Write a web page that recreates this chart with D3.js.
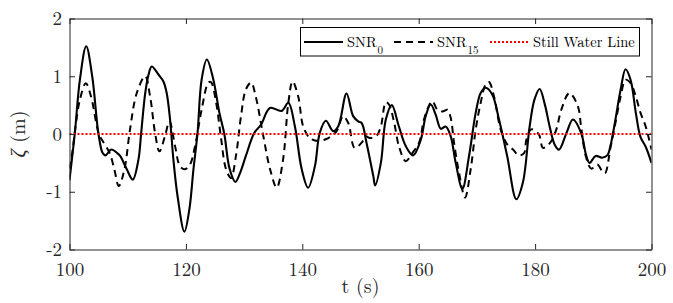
<!DOCTYPE html>
<html>
<head>
<meta charset="utf-8">
<script src="https://cdn.jsdelivr.net/npm/d3@7"></script>
<style>
body { margin: 0; background: #fff; }
</style>
</head>
<body>
<svg id="chart" width="673" height="303"></svg>
<script>
// SNR_0 record
const tSNR0 = [100, 100.9, 101.8, 102.87, 103.9, 104.98, 105.7, 106.2, 107.15, 108.2, 108.7, 109.84, 110.87, 111.85, 112.3,
  113.0, 113.56, 114.13, 115.28, 116.14, 116.7, 117.28, 117.85, 118.6, 119.74, 120.6, 121.3, 122.0, 122.7, 123.6,
  124.7, 125.75, 126.6, 127.5, 128.5, 129.4, 130.3, 131.76, 132.9, 134.44, 136.44, 137.6, 138.73, 139.9, 141.0,
  142.16, 143.0, 144.05, 145.3, 146.2, 147.6, 148.74, 149.6, 150.2, 151.03, 152.2, 152.52, 153.5, 154.35, 155.38,
  156.6, 157.78, 159.04, 160.36, 161.2, 162.07, 162.9, 163.8, 164.64, 165.5, 166.36, 167.5, 168.65, 169.8, 170.65,
  171.5, 172.65, 173.8, 175.2, 176.77, 177.9, 179.06, 179.9, 180.78, 181.7, 182.5, 183.35, 184.1, 185.4, 186.5,
  187.9, 188.8, 189.36, 190.4, 191.5, 192.4, 193.0, 193.8, 194.7, 195.54, 196.4, 197.3, 198.1, 199.0, 200];
const zSNR0 = [-0.80, 0.0, 0.95, 1.52, 1.0, 0.0, -0.33, -0.37, -0.27, -0.33, -0.38, -0.61, -0.79, -0.44, 0.0,
  0.70, 1.02, 1.17, 1.03, 0.91, 0.71, 0.25, -0.44, -1.1, -1.69, -1.3, -0.61, 0.02, 0.94, 1.29,
  0.95, 0.37, 0.0, -0.6, -0.83, -0.65, -0.38, 0.02, 0.16, 0.45, 0.40, 0.54, 0.13, -0.61, -0.93,
  -0.56, 0.02, 0.23, 0.05, 0.14, 0.70, 0.31, 0.22, 0.19, -0.15, -0.73, -0.89, -0.5, 0.25, 0.50,
  0.13, -0.21, -0.37, -0.10, 0.31, 0.51, 0.34, 0.09, 0.13, -0.04, -0.50, -0.95, -0.38, 0.37, 0.71,
  0.80, 0.68, 0.25, -0.38, -1.13, -0.84, 0.13, 0.60, 0.78, 0.50, 0.13, -0.18, -0.27, 0.02, 0.25,
  0.02, -0.38, -0.50, -0.38, -0.41, -0.37, -0.18, 0.25, 0.77, 1.12, 0.94, 0.37, -0.05, -0.22, -0.50];

// SNR_15 record
const tSNR15 = [100, 100.4, 101.0, 101.8, 102.8, 103.7, 104.6, 105.1, 105.7, 106.9, 107.7, 108.47, 109.44, 110.4, 111.56,
  113.0, 113.85, 114.7, 115.45, 116.4, 117.17, 118.14, 119.0, 119.86, 120.7, 121.57, 122.7, 123.86, 124.3, 125.2,
  126.0, 126.9, 127.75, 128.6, 129.47, 130.3, 131.2, 132.0, 133.2, 134.44, 135.6, 136.7, 137.6, 138.33, 139.3,
  140.16, 141.3, 142.7, 144.45, 145.9, 147.0, 147.9, 149.0, 150.2, 150.9, 151.6, 152.75, 153.5, 154.35, 154.9,
  155.8, 156.6, 157.78, 158.9, 160.07, 160.9, 161.8, 162.35, 163.2, 164.07, 164.93, 165.5, 166.07, 166.93, 167.96,
  168.93, 169.8, 170.65, 171.5, 172.08, 172.94, 174.08, 175.2, 176.2, 177.2, 178.1, 178.5, 179.35, 180.66, 181.35,
  182.6, 183.65, 184.5, 185.9, 187.35, 187.9, 188.7, 189.65, 190.7, 191.5, 192.0, 193.0, 193.8, 194.7, 195.54,
  196.4, 197.3, 198.1, 199.0, 199.6, 200];
const zSNR15 = [-0.60, -0.38, 0.10, 0.60, 0.88, 0.65, 0.19, -0.02, -0.12, -0.33, -0.61, -0.90, -0.61, 0.08, 0.71,
  1.0, 0.65, 0.02, -0.30, -0.04, 0.22, -0.21, -0.56, -0.61, -0.53, -0.21, 0.42, 0.89, 0.90, 0.54,
  -0.04, -0.61, -0.76, -0.38, 0.31, 0.77, 0.89, 0.65, 0.02, -0.6, -0.93, -0.44, 0.54, 0.91, 0.65,
  0.13, -0.07, -0.12, -0.07, 0.05, 0.31, 0.19, -0.24, -0.15, -0.04, -0.07, -0.03, 0.13, 0.55, 0.51,
  0.19, -0.21, -0.47, -0.33, -0.15, 0.25, 0.50, 0.57, 0.42, 0.39, 0.42, 0.28, -0.15, -0.67, -1.10,
  -0.61, 0.08, 0.54, 0.86, 0.90, 0.65, 0.08, -0.18, -0.27, -0.37, -0.33, -0.1, 0.08, -0.01, -0.24,
  -0.15, 0.08, 0.42, 0.71, 0.48, 0.13, -0.38, -0.60, -0.53, -0.64, -0.68, -0.21, 0.19, 0.65, 0.94,
  0.88, 0.65, 0.37, 0.13, -0.10, -0.27];

const swl = 0;
const xTicks = [100, 120, 140, 160, 180, 200];
const yTicks = [-2, -1, 0, 1, 2];
const legendItems = [
  {name: "SNR", sub: "0", kind: "solid"},
  {name: "SNR", sub: "15", kind: "dashed"},
  {name: "Still Water Line", sub: null, kind: "swl"}
];

const FONT = '"Latin Modern Roman", "Liberation Serif", serif';

const svg = d3.select("#chart");
const box = {left: 69.5, right: 651.5, top: 18.5, bottom: 249.5};

var scale = {
  x: d3.scaleLinear().domain([100, 200]).range([box.left, box.right]),
  y: d3.scaleLinear().domain([-2, 2]).range([box.bottom, box.top])
};

svg.append("clipPath").attr("id", "clip")
  .append("rect")
  .attr("x", box.left).attr("y", box.top)
  .attr("width", box.right - box.left).attr("height", box.bottom - box.top);

var line = d3.line().curve(d3.curveCatmullRom.alpha(0.5))
  .x(d => scale.x(d[0]))
  .y(d => scale.y(d[1]));

const plot = svg.append("g").attr("clip-path", "url(#clip)");

plot.append("path")
  .attr("d", line(d3.zip(tSNR0, zSNR0)))
  .attr("fill", "none").attr("stroke", "#000").attr("stroke-width", 2.1)
  .attr("stroke-linejoin", "round");

plot.append("path")
  .attr("d", line(d3.zip(tSNR15, zSNR15)))
  .attr("fill", "none").attr("stroke", "#000").attr("stroke-width", 2)
  .attr("stroke-dasharray", "7,5");

plot.append("line")
  .attr("x1", scale.x(100)).attr("x2", scale.x(200))
  .attr("y1", scale.y(swl)).attr("y2", scale.y(swl))
  .attr("stroke", "#ff0000").attr("stroke-width", 1.8)
  .attr("stroke-dasharray", "2,2");

// axes, ticks point inwards on all four sides
function styleAxis(g) {
  g.select(".domain").attr("stroke", "#262626");
  g.selectAll(".tick line").attr("stroke", "#262626");
  g.selectAll("text").attr("fill", "#262626")
    .style("font-family", FONT).style("font-size", "19px");
}

svg.append("g").attr("transform", `translate(0,${box.bottom})`)
  .call(d3.axisBottom(scale.x).tickValues(xTicks).tickSize(-5.5).tickSizeOuter(0).tickPadding(13))
  .call(styleAxis);
svg.append("g").attr("transform", `translate(0,${box.top})`)
  .call(d3.axisTop(scale.x).tickValues(xTicks).tickSize(-5.5).tickSizeOuter(0).tickFormat(""))
  .call(styleAxis);
svg.append("g").attr("transform", `translate(${box.left},0)`)
  .call(d3.axisLeft(scale.y).tickValues(yTicks).tickSize(-5.5).tickSizeOuter(0).tickPadding(7.5)
    .tickFormat(d => String(d)))
  .call(styleAxis);
svg.append("g").attr("transform", `translate(${box.right},0)`)
  .call(d3.axisRight(scale.y).tickValues(yTicks).tickSize(-5.5).tickSizeOuter(0).tickFormat(""))
  .call(styleAxis);

// axis labels
svg.append("text")
  .attr("x", (box.left + box.right) / 2).attr("y", 293)
  .attr("text-anchor", "middle").attr("fill", "#262626")
  .style("font-family", FONT).style("font-size", "20px")
  .text("t (s)");

const yl = svg.append("text")
  .attr("transform", `translate(25,${(box.top + box.bottom) / 2}) rotate(-90)`)
  .attr("text-anchor", "middle").attr("fill", "#262626")
  .style("font-family", FONT).style("font-size", "20px");
yl.append("tspan").style("font-style", "italic").text("ζ");
yl.append("tspan").text(" (m)");

// legend
const leg = svg.append("g");
leg.append("rect")
  .attr("x", 300.5).attr("y", 27.5).attr("width", 339).attr("height", 28.5)
  .attr("fill", "#fff").attr("stroke", "#000").attr("stroke-width", 1);

const legX = [304, 394, 490];
legendItems.forEach((item, i) => {
  const x0 = legX[i], ly = 42;
  const s = leg.append("line")
    .attr("x1", x0).attr("x2", x0 + 39).attr("y1", ly).attr("y2", ly);
  if (item.kind === "solid") s.attr("stroke", "#000").attr("stroke-width", 2);
  if (item.kind === "dashed") s.attr("stroke", "#000").attr("stroke-width", 2).attr("stroke-dasharray", "7,5");
  if (item.kind === "swl") s.attr("stroke", "#ff0000").attr("stroke-width", 1.8).attr("stroke-dasharray", "2,2");
  const t = leg.append("text").attr("x", x0 + 43).attr("y", 47).attr("fill", "#000")
    .style("font-family", FONT).style("font-size", "14.5px");
  t.append("tspan").text(item.name);
  if (item.sub) t.append("tspan").attr("dx", 1).attr("dy", 7).style("font-size", "11px").text(item.sub);
});
</script>
</body>
</html>
